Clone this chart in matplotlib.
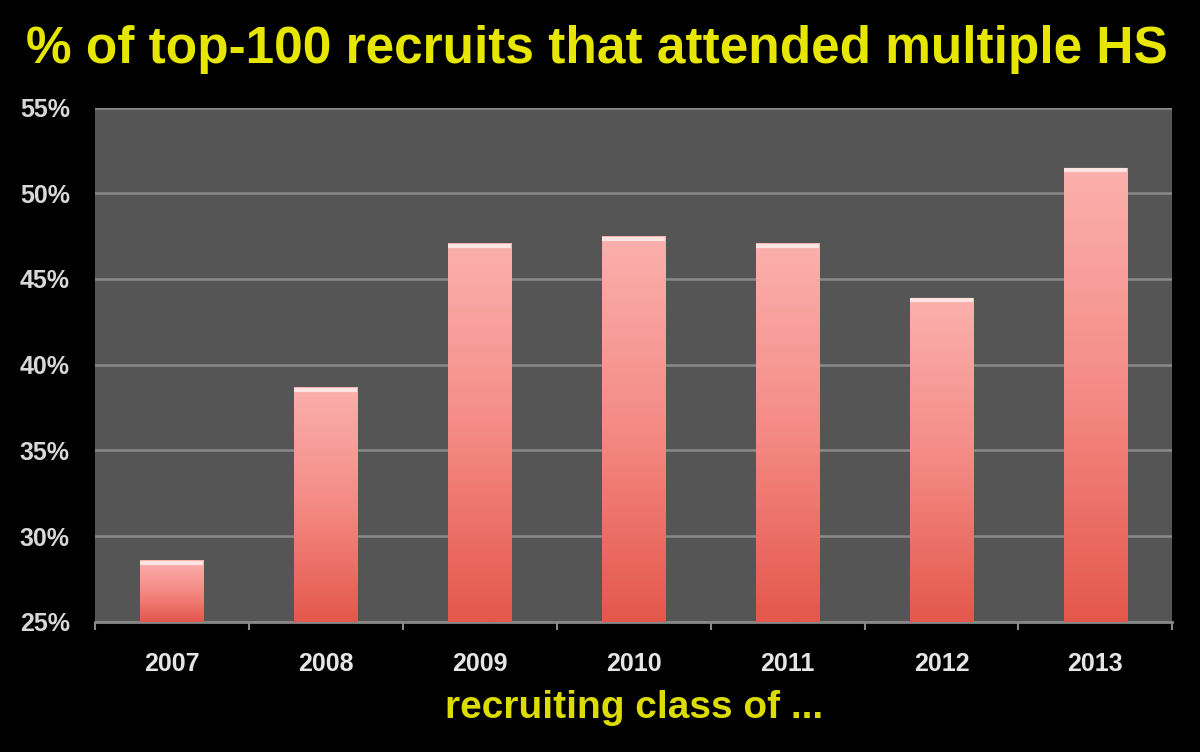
import numpy as np
import matplotlib
matplotlib.use("Agg")
import matplotlib.pyplot as plt
from matplotlib.colors import LinearSegmentedColormap

years = ["2007", "2008", "2009", "2010", "2011", "2012", "2013"]
pct = [28.6, 38.7, 47.1, 47.5, 47.1, 43.9, 51.5]
yticks = [25, 30, 35, 40, 45, 50, 55]

plt.rcParams['font.family'] = ['Liberation Sans', 'DejaVu Sans']

fig = plt.figure(figsize=(12, 7.52), dpi=100, facecolor='black')
ax = fig.add_axes([0.079, 0.173, 0.898, 0.684])
ax.set_facecolor('#555555')

bars = ax.bar(range(len(years)), pct, width=0.41, bottom=0, color='none', zorder=3)
ax.set_ylim(25, 55)
ax.set_xlim(-0.5, len(years) - 0.5)

# vertical gradient for each bar, clipped to the bar shape
cmap = LinearSegmentedColormap.from_list('bar', ['#e4574c', '#f48a84', '#fbb0ad'])
grad = np.linspace(0, 1, 256).reshape(-1, 1)
for b in bars:
    x0, w, h = b.get_x(), b.get_width(), b.get_height()
    im = ax.imshow(grad, cmap=cmap, origin='lower', aspect='auto',
                   extent=[x0, x0 + w, 25, h], zorder=3)
    im.set_clip_path(b)
    ax.plot([x0, x0 + w], [h - 0.15, h - 0.15], color='#fde3e2', lw=3, zorder=4,
            solid_capstyle='butt')

ax.set_yticks(yticks)
ax.set_yticklabels([f"{v}%" for v in yticks])
ax.yaxis.grid(True, color='#8a8a8a', lw=1.8, zorder=1)
ax.set_axisbelow(True)

ax.set_xticks(range(len(years)))
ax.set_xticklabels(years)
ax.set_xticks(np.arange(-0.5, len(years)), minor=True)
ax.tick_params(axis='x', which='major', length=0, pad=22, labelsize=18, colors='#e6e6e6')
ax.tick_params(axis='x', which='minor', length=6, width=1.5, color='#888888', direction='out')
ax.tick_params(axis='y', length=0, pad=18, labelsize=18, colors='#d8d8d8')
for lbl in ax.get_xticklabels() + ax.get_yticklabels():
    lbl.set_fontweight('bold')

for s in ['top', 'right', 'left']:
    ax.spines[s].set_visible(False)
ax.spines['bottom'].set_color('#888888')
ax.spines['bottom'].set_linewidth(2)

fig.text(0.497, 0.934, "% of top-100 recruits that attended multiple HS", ha='center', va='center',
         color='#e6e600', fontsize=37, fontweight='bold')
fig.text(0.528, 0.058, "recruiting class of ...", ha='center', va='center',
         color='#dcdc00', fontsize=28, fontweight='bold')

fig.savefig("out.png", dpi=100, facecolor='black')
